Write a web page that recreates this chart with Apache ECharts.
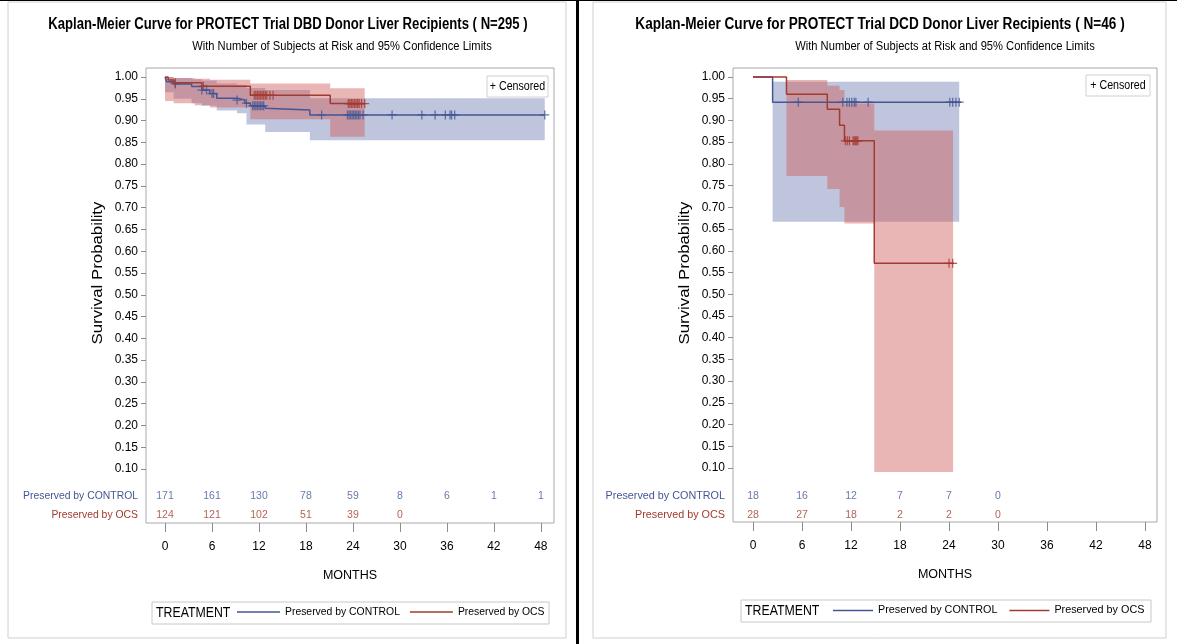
<!DOCTYPE html>
<html><head><meta charset="utf-8">
<script src="https://cdn.jsdelivr.net/npm/echarts@6/dist/echarts.min.js"></script>
<style>html,body{margin:0;padding:0;background:#fff}#c{width:1177px;height:644px}</style>
</head><body><div id="c"></div>
<script>
// ---------- data ----------
const months = [0, 6, 12, 18, 24, 30, 36, 42, 48];
const yTicks = [0.10,0.15,0.20,0.25,0.30,0.35,0.40,0.45,0.50,0.55,0.60,0.65,0.70,0.75,0.80,0.85,0.90,0.95,1.00];
const groupNames = ['Preserved by CONTROL', 'Preserved by OCS'];

// DBD panel (N=295)
const dbdControlTime = [0, 0.2, 1.1, 3.4, 4.7, 5.7, 6.6, 9.2, 10.2, 10.9, 12.8, 13.0, 18.5, 48.5];
const dbdControlSurv = [1.000, 0.989, 0.984, 0.978, 0.970, 0.962, 0.951, 0.947, 0.940, 0.934, 0.928, 0.924, 0.913, 0.913];
const dbdControlCensor = [1.3, 4.7, 5.3, 6.0, 6.2, 9.2, 10.4, 11.2, 11.4, 11.6, 11.8, 12.0, 12.2, 12.4, 12.6, 20.0, 23.3, 23.5, 23.7, 23.9, 24.1, 24.3, 24.5, 24.7, 24.9, 25.3, 29.0, 32.8, 34.5, 35.8, 36.4, 36.6, 37.0, 48.5];
const dbdControlBandTime = [0, 1.1, 3.4, 4.7, 6.6, 9.2, 10.4, 12.8, 18.5, 48.5];
const dbdControlBandLow  = [0.965, 0.950, 0.940, 0.934, 0.923, 0.917, 0.891, 0.874, 0.855];
const dbdControlBandHigh = [1.000, 0.998, 0.995, 0.992, 0.985, 0.982, 0.975, 0.970, 0.951];

const dbdOcsTime = [0, 0.4, 1.1, 4.7, 10.9, 21.1, 25.5];
const dbdOcsSurv = [1.000, 0.993, 0.987, 0.979, 0.958, 0.939, 0.939];
const dbdOcsCensor = [1.3, 4.9, 11.4, 11.6, 11.8, 12.0, 12.2, 12.4, 12.6, 12.8, 13.0, 13.4, 13.8, 23.4, 23.6, 23.8, 24.0, 24.2, 24.4, 24.6, 24.8, 25.1, 25.5];
const dbdOcsBandTime = [0, 1.1, 3.8, 5.75, 10.9, 21.1, 25.5];
const dbdOcsBandLow  = [0.945, 0.940, 0.935, 0.930, 0.903, 0.863];
const dbdOcsBandHigh = [1.000, 0.998, 0.996, 0.994, 0.985, 0.974];

const dbdAtRiskControl = [171, 161, 130, 78, 59, 8, 6, 1, 1];
const dbdAtRiskOcs = [124, 121, 102, 51, 39, 0];

// DCD panel (N=46)
const dcdControlTime = [0, 2.4, 25.5];
const dcdControlSurv = [1.000, 0.942, 0.942];
const dcdControlCensor = [5.55, 11.0, 11.5, 11.8, 12.1, 12.4, 12.6, 14.1, 24.1, 24.45, 24.85, 25.25];
const dcdControlBandTime = [2.4, 25.25];
const dcdControlBandLow  = [0.667];
const dcdControlBandHigh = [0.989];

const dcdOcsTime = [0, 4.1, 9.1, 10.6, 11.2, 14.85, 24.6];
const dcdOcsSurv = [1.000, 0.960, 0.926, 0.889, 0.853, 0.571, 0.571];
const dcdOcsCensor = [11.3, 11.55, 11.8, 12.25, 12.4, 12.55, 12.7, 12.85, 24.0, 24.45];
const dcdOcsBandTime = [4.1, 9.1, 10.6, 11.2, 14.85, 24.5];
const dcdOcsBandLow  = [0.772, 0.742, 0.701, 0.663, 0.091];
const dcdOcsBandHigh = [0.993, 0.980, 0.970, 0.939, 0.877];

const dcdAtRiskControl = [18, 16, 12, 7, 7, 0];
const dcdAtRiskOcs = [28, 27, 18, 2, 2, 0];

// ---------- style ----------
const FONT = "'Liberation Sans',Arial,sans-serif";
const BLUE = '#445694', RED = '#A23A2E';
const BLUE_FILL = 'rgba(111,126,179,0.45)', RED_FILL = 'rgba(208,91,91,0.45)';
const PLUS = 'path://M0,4.3H10V5.7H0Z M4.3,0H5.7V10H4.3Z';

const panels = [
  { frame: {left: 146, top: 68, width: 408, height: 455}, xr: [-2.43, 49.68], yr: [-0.024, 1.0207],
    risk: {top: 487, height: 38},
    title: 'Kaplan-Meier Curve for PROTECT Trial DBD Donor Liver Recipients ( N=295 )',
    titleX: 288, titleScale: 0.82, subX: 342, yNameX: 98, txt: 10.4,
    box: [8, 2, 558, 636], cens: [487, 76, 61, 21], legBox: [152, 602, 397, 22],
    legLeft: 237, legGap: 10, legW: 43,
    ctrl: {time: dbdControlTime, surv: dbdControlSurv, censor: dbdControlCensor,
           bt: dbdControlBandTime, bl: dbdControlBandLow, bh: dbdControlBandHigh, risk: dbdAtRiskControl},
    ocs:  {time: dbdOcsTime, surv: dbdOcsSurv, censor: dbdOcsCensor,
           bt: dbdOcsBandTime, bl: dbdOcsBandLow, bh: dbdOcsBandHigh, risk: dbdAtRiskOcs} },
  { frame: {left: 733, top: 68, width: 424, height: 454}, xr: [-2.45, 49.47], yr: [-0.0243, 1.0207],
    risk: {top: 486.5, height: 38},
    title: 'Kaplan-Meier Curve for PROTECT Trial DCD Donor Liver Recipients ( N=46 )',
    titleX: 880, titleScale: 0.85, subX: 945, yNameX: 685, txt: 10.8,
    box: [593, 2, 573, 636], cens: [1086, 75, 64, 21], legBox: [741, 600, 410, 22],
    legLeft: 833, legGap: 12, legW: 40,
    ctrl: {time: dcdControlTime, surv: dcdControlSurv, censor: dcdControlCensor,
           bt: dcdControlBandTime, bl: dcdControlBandLow, bh: dcdControlBandHigh, risk: dcdAtRiskControl},
    ocs:  {time: dcdOcsTime, surv: dcdOcsSurv, censor: dcdOcsCensor,
           bt: dcdOcsBandTime, bl: dcdOcsBandLow, bh: dcdOcsBandHigh, risk: dcdAtRiskOcs} }
];

function survAt(times, surv, t) {
  let v = surv[0];
  for (let i = 0; i < times.length; i++) if (times[i] <= t + 1e-9) v = surv[i];
  return v;
}

function bandSeries(g, d, fill) {
  const items = d.bl.map((lo, i) => [d.bt[i], d.bt[i + 1], lo, d.bh[i]]);
  return {
    type: 'custom', xAxisIndex: g, yAxisIndex: g, silent: true, z: 1,
    data: items, encode: {x: [0, 1], y: [2, 3]},
    renderItem: function (params, api) {
      if (params.dataIndex !== 0) return null;
      const pts = [];
      for (let i = 0; i < items.length; i++) {
        pts.push(api.coord([items[i][0], items[i][3]]));
        pts.push(api.coord([items[i][1], items[i][3]]));
      }
      for (let i = items.length - 1; i >= 0; i--) {
        pts.push(api.coord([items[i][1], items[i][2]]));
        pts.push(api.coord([items[i][0], items[i][2]]));
      }
      return {type: 'polygon', shape: {points: pts}, style: {fill: fill, stroke: null}};
    }
  };
}

const grid = [], xAxis = [], yAxis = [], series = [], graphic = [], legend = [];

panels.forEach((p, k) => {
  const gA = k * 2, gB = k * 2 + 1;
  grid.push({left: p.frame.left, top: p.frame.top, width: p.frame.width, height: p.frame.height,
             show: true, borderColor: '#a8a8a8', borderWidth: 1, backgroundColor: 'transparent'});
  grid.push({left: p.frame.left, top: p.risk.top, width: p.frame.width, height: p.risk.height, show: false});

  xAxis.push({type: 'value', gridIndex: gA, min: p.xr[0], max: p.xr[1], show: false,
    axisLine: {onZero: false}, splitLine: {show: false}});
  xAxis.push({type: 'value', gridIndex: gB, min: p.xr[0], max: p.xr[1], position: 'bottom',
    offset: p.frame.top + p.frame.height - p.risk.top - p.risk.height,
    axisLine: {show: false, onZero: false}, splitLine: {show: false},
    axisTick: {show: true, customValues: months, length: 9, lineStyle: {color: '#8c8c8c'}},
    axisLabel: {customValues: months, margin: 18, fontFamily: FONT, fontSize: 12, color: '#000'},
    name: 'MONTHS', nameLocation: 'middle', nameGap: 46,
    nameTextStyle: {fontFamily: FONT, fontSize: 12.5, color: '#000'}});

  yAxis.push({type: 'value', gridIndex: gA, min: p.yr[0], max: p.yr[1],
    axisLine: {show: false, onZero: false}, splitLine: {show: false},
    axisTick: {show: true, customValues: yTicks, length: 5, lineStyle: {color: '#8c8c8c'}},
    axisLabel: {customValues: yTicks, margin: 8, fontFamily: FONT, fontSize: 12, color: '#000',
                formatter: v => v.toFixed(2)}});
  yAxis.push({type: 'category', gridIndex: gB, data: groupNames, inverse: true,
    axisLine: {show: false, onZero: false}, axisTick: {show: false}, splitLine: {show: false},
    axisLabel: {margin: 8, fontFamily: FONT, fontSize: p.txt,
                color: (v, i) => (i === 0 ? BLUE : RED)}});

  series.push(bandSeries(gA, p.ctrl, BLUE_FILL));
  series.push(bandSeries(gA, p.ocs, RED_FILL));

  [[p.ctrl, BLUE, 0], [p.ocs, RED, 1]].forEach(([d, col, gi]) => {
    series.push({type: 'line', name: groupNames[gi], xAxisIndex: gA, yAxisIndex: gA, step: 'end',
      symbol: 'none', z: 3, color: col, lineStyle: {color: col, width: 1.5},
      data: d.time.map((t, i) => [t, d.surv[i]])});
    series.push({type: 'scatter', name: 'censor' + gi, xAxisIndex: gA, yAxisIndex: gA, z: 4,
      symbol: PLUS, symbolSize: 9, itemStyle: {color: col}, silent: true,
      data: d.censor.map(t => [t, survAt(d.time, d.surv, t)])});
    series.push({type: 'scatter', name: 'risk' + gi, xAxisIndex: gB, yAxisIndex: gB, symbolSize: 0,
      silent: true,
      label: {show: true, position: 'inside', color: col, fontFamily: FONT, fontSize: 10.5,
              formatter: q => String(q.value[2])},
      data: d.risk.map((n, i) => [months[i], groupNames[gi], n])});
  });

  // legend
  legend.push({data: groupNames, left: p.legLeft, top: p.legBox[1] + 5, padding: 0,
    icon: 'rect', itemWidth: p.legW, itemHeight: 1.5, itemGap: p.legGap, selectedMode: false,
    textStyle: {fontFamily: FONT, fontSize: p.txt, color: '#000'}});

  // decorations
  graphic.push({type: 'rect', shape: {x: p.box[0], y: p.box[1], width: p.box[2], height: p.box[3]},
    style: {fill: null, stroke: '#d0d0d0', lineWidth: 1}, z: -1, silent: true});
  graphic.push({type: 'text', x: p.titleX, y: 25, scaleX: p.titleScale, silent: true,
    style: {text: p.title, font: "bold 16px " + FONT, fill: '#000', textAlign: 'center', textVerticalAlign: 'middle'}});
  graphic.push({type: 'text', x: p.subX, y: 47, scaleX: 0.93, silent: true,
    style: {text: 'With Number of Subjects at Risk and 95% Confidence Limits', font: "12px " + FONT, fill: '#000',
            textAlign: 'center', textVerticalAlign: 'middle'}});
  graphic.push({type: 'text', x: p.yNameX, y: 273, rotation: Math.PI / 2, scaleX: 1.2, silent: true,
    style: {text: 'Survival Probability', font: "14px " + FONT, fill: '#000',
            textAlign: 'center', textVerticalAlign: 'middle'}});
  graphic.push({type: 'rect', shape: {x: p.cens[0], y: p.cens[1], width: p.cens[2], height: p.cens[3]},
    style: {fill: '#fff', stroke: '#d0d0d0', lineWidth: 1}, z: 10, silent: true});
  graphic.push({type: 'text', x: p.cens[0] + p.cens[2] / 2, y: p.cens[1] + p.cens[3] / 2, scaleX: 0.82, z: 11, silent: true,
    style: {text: '+ Censored', font: "13px " + FONT, fill: '#000', textAlign: 'center', textVerticalAlign: 'middle'}});
  graphic.push({type: 'rect', shape: {x: p.legBox[0], y: p.legBox[1], width: p.legBox[2], height: p.legBox[3]},
    style: {fill: null, stroke: '#c8c8c8', lineWidth: 1}, silent: true});
  graphic.push({type: 'text', x: p.legBox[0] + 4, y: p.legBox[1] + p.legBox[3] / 2, scaleX: 0.88, silent: true,
    style: {text: 'TREATMENT', font: "14px " + FONT, fill: '#000', textVerticalAlign: 'middle'}});
});

graphic.push({type: 'rect', shape: {x: 576, y: 0, width: 3, height: 644}, style: {fill: '#000'}, silent: true});
graphic.push({type: 'rect', shape: {x: 0, y: 0, width: 1177, height: 1}, style: {fill: '#000'}, silent: true});

const chart = echarts.init(document.getElementById('c'), null, {renderer: 'canvas'});
chart.setOption({animation: false, backgroundColor: '#fff', grid, xAxis, yAxis, series, legend, graphic});
</script></body></html>
